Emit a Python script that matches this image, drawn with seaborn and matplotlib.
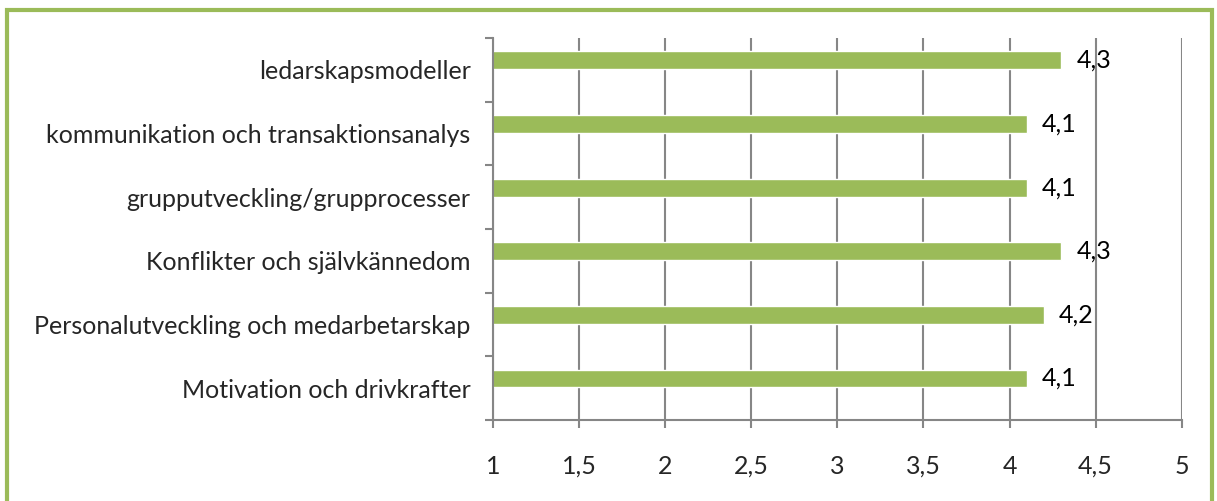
#!/usr/bin/env python3
"""
Horizontal bar chart of average course ratings per topic.
"""

import matplotlib
matplotlib.use("Agg")
import matplotlib.pyplot as plt
import seaborn as sns
import pandas as pd
from matplotlib.patches import Rectangle

# Data, top to bottom as shown in the chart
topics = [
    "ledarskapsmodeller",
    "kommunikation och transaktionsanalys",
    "grupputveckling/grupprocesser",
    "Konflikter och självkännedom",
    "Personalutveckling och medarbetarskap",
    "Motivation och drivkrafter",
]
scores = [4.3, 4.1, 4.1, 4.3, 4.2, 4.1]
x_ticks = [1, 1.5, 2, 2.5, 3, 3.5, 4, 4.5, 5]
x_tick_labels = ["1", "1,5", "2", "2,5", "3", "3,5", "4", "4,5", "5"]

GREEN = "#9BBB59"
GRAY = "#868686"
BAR_SHIFT = 0.15  # bars sit a bit above the category centre (Excel style)
FS = 18


def main():
    sns.set_theme(style="white")
    plt.rcParams["font.family"] = ["Lato", "DejaVu Sans"]

    df = pd.DataFrame({"topic": topics, "score": scores})

    fig = plt.figure(figsize=(12.17, 5.01), dpi=100)
    ax = fig.add_axes([0.405, 0.162, 0.566, 0.762])

    sns.barplot(data=df, x="score", y="topic", orient="h", color=GREEN,
                saturation=1, width=0.28, ax=ax)
    for patch in ax.patches:
        patch.set_y(patch.get_y() - BAR_SHIFT)

    ax.set_xlim(1, 5)
    ax.set_ylim(len(topics) - 0.5, -0.5)
    ax.set_xlabel("")
    ax.set_ylabel("")

    # vertical grid lines at every half step
    ax.set_xticks(x_ticks)
    ax.set_xticklabels(x_tick_labels, fontsize=FS)
    ax.xaxis.grid(True, color=GRAY, linewidth=1.5)
    ax.set_axisbelow(True)

    # category labels with tick marks between categories
    ax.set_yticks(range(len(topics)))
    ax.set_yticklabels(topics, fontsize=FS)
    ax.set_yticks([i - 0.5 for i in range(len(topics) + 1)], minor=True)
    ax.tick_params(axis="y", which="major", length=0, pad=16)
    ax.tick_params(axis="y", which="minor", length=6, width=1.5,
                   color=GRAY, left=True)
    ax.tick_params(axis="x", which="major", length=6, width=1.5,
                   color=GRAY, bottom=True, pad=19)

    for side in ["top", "right"]:
        ax.spines[side].set_visible(False)
    for side in ["left", "bottom"]:
        ax.spines[side].set_color(GRAY)
        ax.spines[side].set_linewidth(1.5)

    # value labels after each bar
    for i, v in enumerate(scores):
        ax.annotate(f"{v:.1f}".replace(".", ","), xy=(v, i - BAR_SHIFT),
                    xytext=(11, 0), textcoords="offset points",
                    va="center", ha="left", fontsize=FS, color="black")

    # green frame around the whole chart
    fig.patches.append(Rectangle((7 / 1217, -0.05), 1205 / 1217, 1.05 - 10 / 501,
                                 transform=fig.transFigure, fill=False,
                                 edgecolor=GREEN, linewidth=3))

    fig.savefig("out.png", dpi=100)
    plt.close(fig)


if __name__ == "__main__":
    main()
